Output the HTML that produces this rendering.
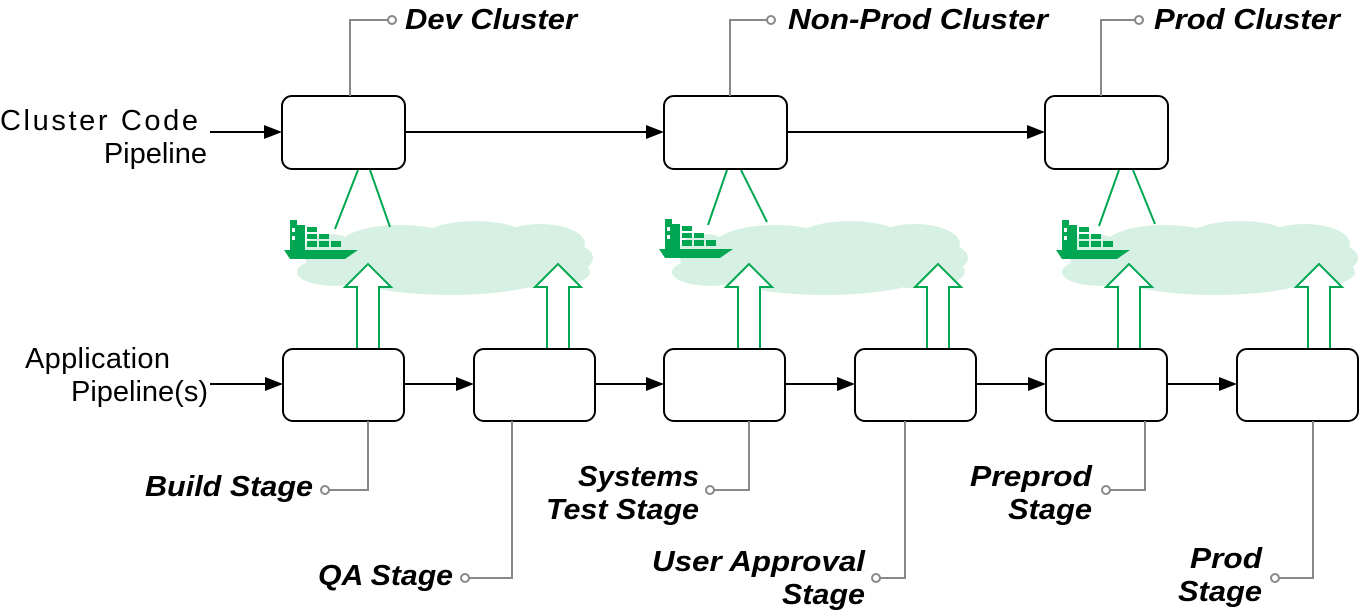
<!DOCTYPE html>
<html><head><meta charset="utf-8"><style>html,body{margin:0;padding:0;background:#fff}svg{display:block}</style></head><body>
<svg width="1360" height="616" viewBox="0 0 1360 616" xmlns="http://www.w3.org/2000/svg">
<defs>
<g id="cloud" fill="#d6f1e3">
<ellipse cx="400" cy="245" rx="60" ry="20"/><ellipse cx="475" cy="240" rx="55" ry="19"/><ellipse cx="540" cy="244" rx="45" ry="20"/><ellipse cx="565" cy="258" rx="28" ry="15"/><ellipse cx="335" cy="272" rx="38" ry="14"/><ellipse cx="450" cy="272" rx="105" ry="23"/><ellipse cx="370" cy="258" rx="65" ry="22"/><ellipse cx="540" cy="272" rx="50" ry="16"/><ellipse cx="330" cy="248" rx="25" ry="14"/>
</g>
<g id="ship" fill="#00a651">
<path d="M284,250 L358,250 L345,259 L290,259 Z"/>
<rect x="290" y="220" width="7" height="30"/><rect x="297" y="225" width="8" height="25"/>
<rect x="307" y="227" width="10" height="5"/><rect x="307" y="234" width="10" height="5"/><rect x="319" y="234" width="10" height="5"/><rect x="307" y="241" width="10" height="6"/><rect x="319" y="241" width="10" height="6"/><rect x="331" y="241" width="10" height="6"/>
<rect x="292" y="228" width="3" height="4" fill="#fff"/><rect x="292" y="236" width="3" height="4" fill="#fff"/>
</g>
</defs>
<g font-family="Liberation Sans, sans-serif">
<use href="#cloud"/><use href="#cloud" transform="translate(375,0)"/><use href="#cloud" transform="translate(765,0)"/>
<use href="#ship"/><use href="#ship" transform="translate(375,-1)"/><use href="#ship" transform="translate(772,0)"/>
<g stroke="#00a651" stroke-width="2" fill="none">
<line x1="358" y1="170" x2="335" y2="229"/><line x1="370" y1="170" x2="390" y2="227"/>
<line x1="727" y1="170" x2="708" y2="225"/><line x1="741" y1="170" x2="767" y2="222"/>
<line x1="1119" y1="170" x2="1099" y2="226"/><line x1="1133" y1="170" x2="1155" y2="224"/>
</g>
<g stroke="#00a651" stroke-width="2" fill="#fff">
<path d="M357,349 L357,287 L345,287 L368,264 L391,287 L379,287 L379,349"/>
<path d="M547,349 L547,287 L535,287 L558,264 L581,287 L569,287 L569,349"/>
<path d="M738,349 L738,287 L726,287 L749,264 L772,287 L760,287 L760,349"/>
<path d="M927,349 L927,287 L915,287 L938,264 L961,287 L949,287 L949,349"/>
<path d="M1118,349 L1118,287 L1106,287 L1129,264 L1152,287 L1140,287 L1140,349"/>
<path d="M1308,349 L1308,287 L1296,287 L1319,264 L1342,287 L1330,287 L1330,349"/>
</g>
<g stroke="#000" stroke-width="2" fill="#fff">
<rect x="282" y="96" width="123" height="73" rx="10"/><rect x="664" y="96" width="123" height="73" rx="10"/><rect x="1045" y="96" width="123" height="73" rx="10"/>
<rect x="283" y="349" width="121" height="72" rx="10"/><rect x="474" y="349" width="121" height="72" rx="10"/><rect x="664" y="349" width="121" height="72" rx="10"/><rect x="855" y="349" width="121" height="72" rx="10"/><rect x="1046" y="349" width="121" height="72" rx="10"/><rect x="1237" y="349" width="121" height="72" rx="10"/>
</g>
<g stroke="#000" stroke-width="2">
<line x1="210" y1="132" x2="266" y2="132"/><line x1="405" y1="132" x2="648" y2="132"/><line x1="787" y1="132" x2="1029" y2="132"/>
<line x1="210" y1="384" x2="267" y2="384"/><line x1="404" y1="384" x2="458" y2="384"/><line x1="595" y1="384" x2="648" y2="384"/><line x1="785" y1="384" x2="839" y2="384"/><line x1="976" y1="384" x2="1030" y2="384"/><line x1="1167" y1="384" x2="1221" y2="384"/>
</g>
<g fill="#000">
<path d="M264,125 L282,132 L264,139Z"/><path d="M646,125 L664,132 L646,139Z"/><path d="M1027,125 L1045,132 L1027,139Z"/>
<path d="M265,377 L283,384 L265,391Z"/><path d="M456,377 L474,384 L456,391Z"/><path d="M646,377 L664,384 L646,391Z"/><path d="M837,377 L855,384 L837,391Z"/><path d="M1028,377 L1046,384 L1028,391Z"/><path d="M1219,377 L1237,384 L1219,391Z"/>
</g>
<g stroke="#888" stroke-width="2" fill="none">
<path d="M350,96 V20 H388"/><circle cx="392" cy="20" r="4" fill="#fff"/>
<path d="M730,96 V20 H767"/><circle cx="771" cy="20" r="4" fill="#fff"/>
<path d="M1101,96 V20 H1135"/><circle cx="1139" cy="20" r="4" fill="#fff"/>
<path d="M368,421 V490 H329"/><circle cx="325" cy="490" r="4" fill="#fff"/>
<path d="M512,421 V578 H469"/><circle cx="465" cy="578" r="4" fill="#fff"/>
<path d="M749,421 V490 H714"/><circle cx="710" cy="490" r="4" fill="#fff"/>
<path d="M905,421 V578 H880"/><circle cx="876" cy="578" r="4" fill="#fff"/>
<path d="M1145,421 V490 H1110"/><circle cx="1106" cy="490" r="4" fill="#fff"/>
<path d="M1313,421 V578 H1279"/><circle cx="1275" cy="578" r="4" fill="#fff"/>
</g>
<g font-size="29" fill="#000">
<text x="0" y="130" textLength="198" lengthAdjust="spacing">Cluster Code</text>
<text x="207" y="163" text-anchor="end">Pipeline</text>
<text x="25" y="368" textLength="145" lengthAdjust="spacing">Application</text>
<text x="208" y="401" text-anchor="end">Pipeline(s)</text>
</g>
<g font-size="29" font-style="italic" font-weight="bold" fill="#000">
<text x="405" y="29" textLength="172" lengthAdjust="spacingAndGlyphs">Dev Cluster</text>
<text x="788" y="29" textLength="260" lengthAdjust="spacingAndGlyphs">Non-Prod Cluster</text>
<text x="1154" y="29" textLength="186" lengthAdjust="spacingAndGlyphs">Prod Cluster</text>
<text x="145" y="496" textLength="168" lengthAdjust="spacingAndGlyphs">Build Stage</text>
<text x="318" y="585" textLength="135" lengthAdjust="spacingAndGlyphs">QA Stage</text>
<text x="578" y="486" textLength="121" lengthAdjust="spacingAndGlyphs">Systems</text>
<text x="546" y="519" textLength="153" lengthAdjust="spacingAndGlyphs">Test Stage</text>
<text x="652" y="571" textLength="213" lengthAdjust="spacingAndGlyphs">User Approval</text>
<text x="782" y="604" textLength="83" lengthAdjust="spacingAndGlyphs">Stage</text>
<text x="970" y="486" textLength="122" lengthAdjust="spacingAndGlyphs">Preprod</text>
<text x="1008" y="519" textLength="84" lengthAdjust="spacingAndGlyphs">Stage</text>
<text x="1190" y="568" textLength="72" lengthAdjust="spacingAndGlyphs">Prod</text>
<text x="1178" y="601" textLength="84" lengthAdjust="spacingAndGlyphs">Stage</text>
</g>
</g>
</svg>
</body></html>
